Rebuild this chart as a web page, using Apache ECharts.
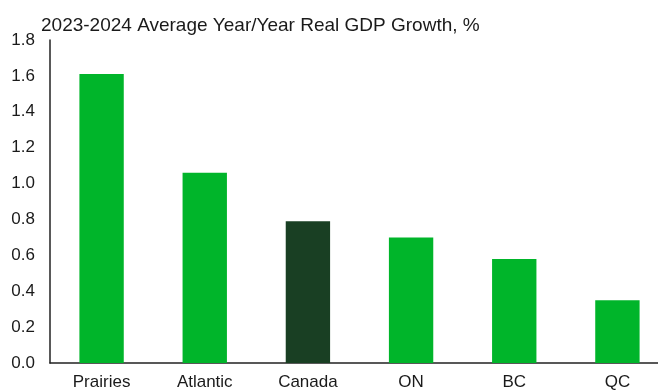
<!DOCTYPE html>
<html>
<head>
<meta charset="utf-8">
<script src="https://cdn.jsdelivr.net/npm/echarts@6/dist/echarts.min.js"></script>
<style>html,body{margin:0;padding:0;background:#fff}#c{width:658px;height:391px}</style>
</head>
<body>
<div id="c"></div>
<script>
var categories = ['Prairies', 'Atlantic', 'Canada', 'ON', 'BC', 'QC'];
var growth = [1.61, 1.06, 0.79, 0.70, 0.58, 0.35];
var yTicks = [0, 0.2, 0.4, 0.6, 0.8, 1.0, 1.2, 1.4, 1.6, 1.8];
var highlight = 'Canada';

var chart = echarts.init(document.getElementById('c'), null, {renderer: 'canvas'});
chart.setOption({
  animation: false,
  title: {
    text: '2023-2024 Average Year/Year Real GDP Growth, %',
    left: 36, top: 11,
    textStyle: {fontFamily: 'Liberation Sans', fontSize: 19, fontWeight: 'normal', color: '#1a1a1a'}
  },
  grid: {left: 50, width: 619, top: 40, bottom: 28, containLabel: false, outerBoundsMode: 'none'},
  xAxis: {
    type: 'category',
    data: categories,
    axisLine: {lineStyle: {color: '#222', width: 1.5}},
    axisTick: {show: false},
    axisLabel: {fontFamily: 'Liberation Sans', fontSize: 17, color: '#1a1a1a', margin: 11}
  },
  yAxis: {
    type: 'value',
    min: yTicks[0], max: yTicks[yTicks.length - 1], interval: 0.2,
    axisLine: {show: true, lineStyle: {color: '#222', width: 1.5}},
    axisTick: {show: false},
    splitLine: {show: false},
    axisLabel: {fontFamily: 'Liberation Sans', fontSize: 17, color: '#1a1a1a', margin: 15,
      formatter: function (v) { return v.toFixed(1); }}
  },
  series: [{
    type: 'bar',
    barWidth: '43%',
    data: growth.map(function (v, i) {
      return {value: v, itemStyle: {color: categories[i] === highlight ? '#193F23' : '#00B52A'}};
    })
  }]
});
</script>
</body>
</html>
